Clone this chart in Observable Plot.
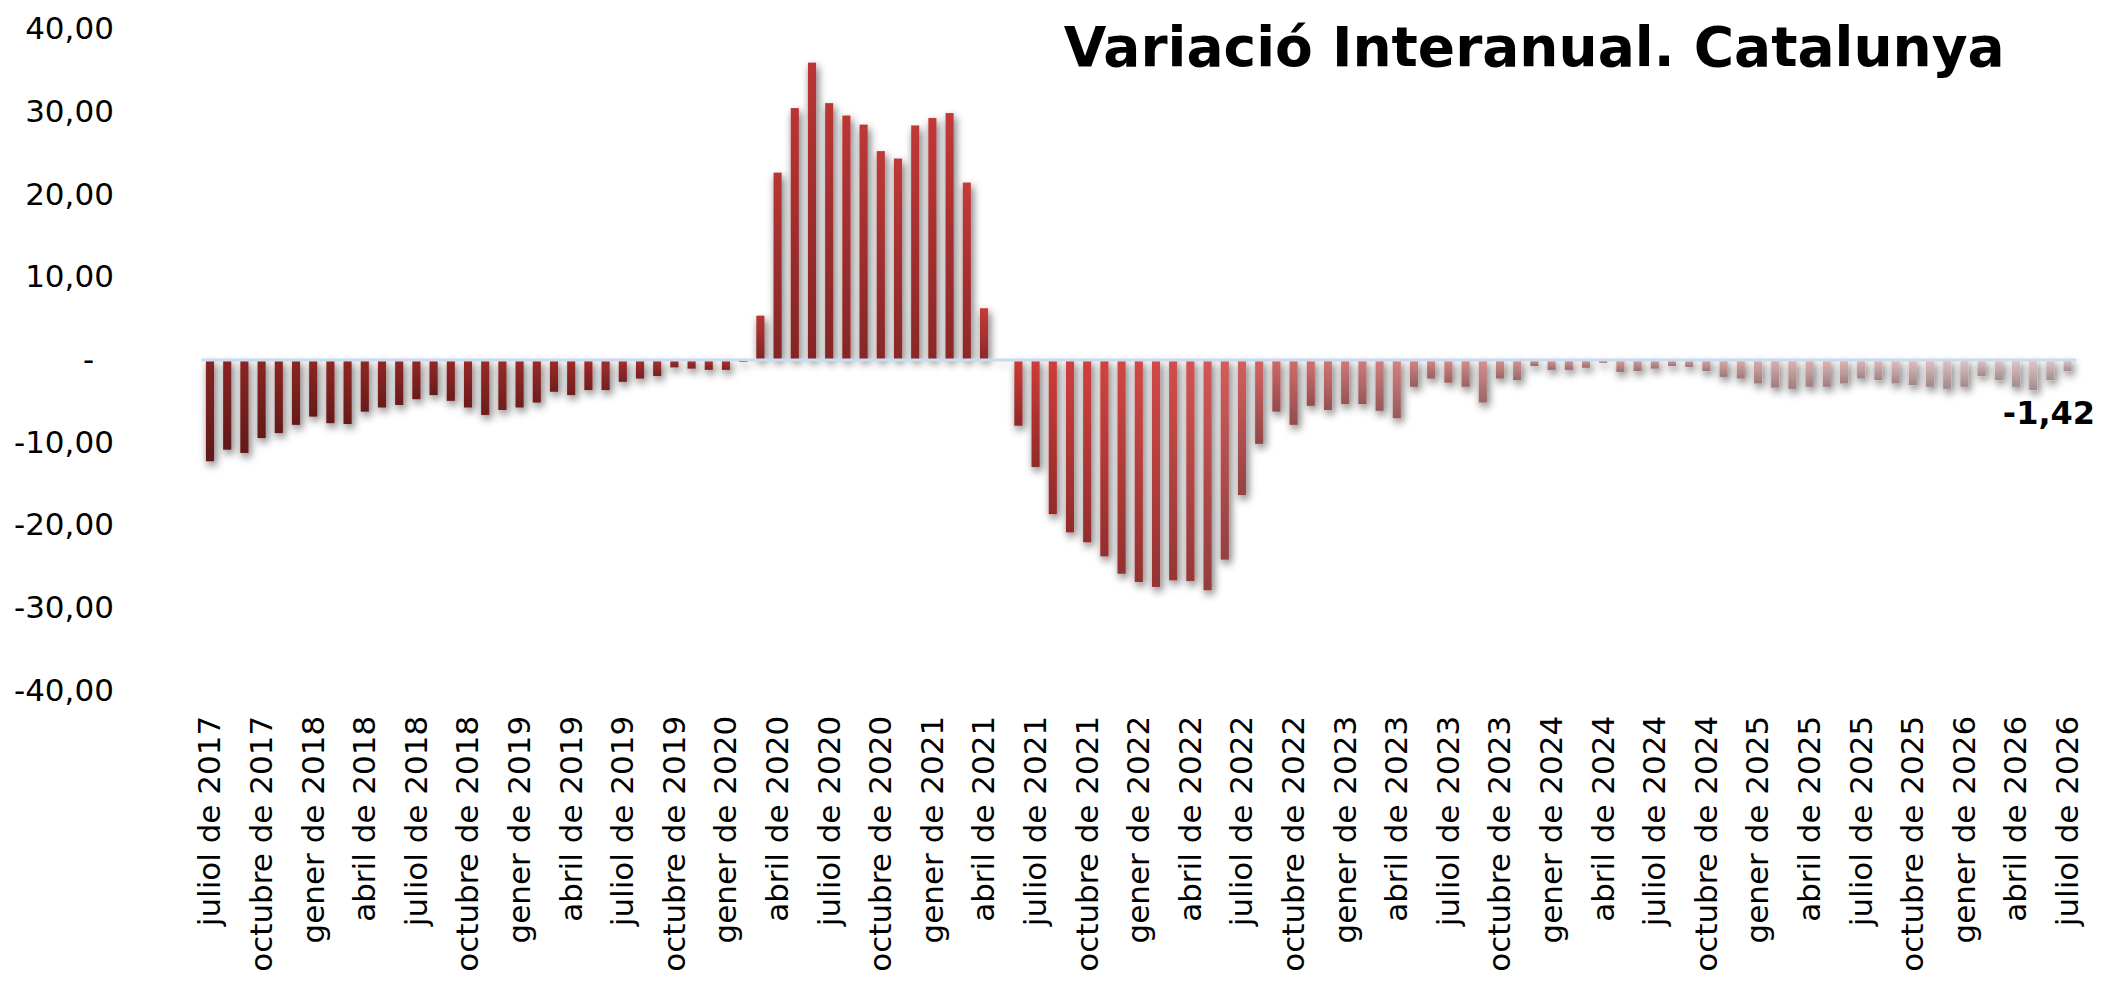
<!DOCTYPE html>
<html>
<head>
<meta charset="utf-8">
<script src="https://cdn.jsdelivr.net/npm/d3@7"></script>
<script src="https://cdn.jsdelivr.net/npm/@observablehq/plot@0.6"></script>
<style>
  html, body { margin: 0; padding: 0; background: #fff; }
  #chart svg { display: block; }
</style>
</head>
<body>
<div id="chart"></div>
<script>
// ---- data ----
const monthNames = ["gener", "febrer", "març", "abril", "maig", "juny", "juliol", "agost", "setembre", "octubre", "novembre", "desembre"];
const startYear = 2017;
const startMonthIndex = 6; // juliol

// Monthly year-on-year variation, juliol de 2017 .. juliol de 2026
const values = [
  -12.3, -10.9, -11.3, -9.5, -8.9, -7.9, -6.9, -7.7, -7.8, -6.3, -5.8, -5.5,
  -4.8, -4.3, -5.0, -5.8, -6.7, -6.1, -5.8, -5.2, -3.9, -4.3, -3.7, -3.7,
  -2.7, -2.3, -2.0, -0.95, -1.1, -1.25, -1.25, -0.3, 5.3, 22.6, 30.4, 35.9,
  31.0, 29.5, 28.4, 25.2, 24.3, 28.3, 29.2, 29.8, 21.4, 6.2, -0.15, -8.0,
  -13.0, -18.7, -20.9, -22.1, -23.8, -25.9, -26.9, -27.5, -26.7, -26.8, -27.9, -24.2,
  -16.4, -10.2, -6.3, -7.9, -5.6, -6.1, -5.4, -5.4, -6.2, -7.1, -3.3, -2.3,
  -2.8, -3.3, -5.2, -2.3, -2.5, -0.8, -1.25, -1.25, -1.0, -0.4, -1.5, -1.4,
  -1.1, -0.8, -0.9, -1.4, -2.1, -2.3, -2.9, -3.4, -3.55, -3.3, -3.3, -2.9,
  -2.3, -2.5, -2.9, -3.1, -3.3, -3.55, -3.3, -2.0, -2.5, -3.3, -3.7, -2.5,
  -1.42
];

const categories = values.map((_, i) => {
  const k = startMonthIndex + i;
  return `${monthNames[k % 12]} de ${startYear + Math.floor(k / 12)}`;
});
const tickLabels = categories.filter((_, i) => i % 3 === 0);
const yTicks = [-40, -30, -20, -10, 0, 10, 20, 30, 40];
const title = "Variació Interanual. Catalunya";
const lastLabel = "-1,42";

// ---- chart ----
const data = categories.map((c, i) => ({period: c, value: values[i]}));
const fmt = v => v === 0 ? "-\u2007" : v.toFixed(2).replace(".", ",");

const W = 2112, H = 986;
const mL = 201.4, mR = 35.8, mT = 28.7, mB = 295.7;

const plot = Plot.plot({
  width: W,
  height: H,
  marginLeft: mL,
  marginRight: mR,
  marginTop: mT,
  marginBottom: mB,
  style: {fontFamily: "'DejaVu Sans', Verdana, sans-serif", fontSize: "31px", color: "#000", background: "#fff", overflow: "visible"},
  x: {type: "band", domain: categories, paddingInner: 0.53, paddingOuter: 0.265, round: false, axis: null},
  y: {domain: [-40, 40], axis: null},
  marks: [
    Plot.axisY({ticks: yTicks, tickFormat: fmt, tickSize: 0, tickPadding: 88, fontSize: 31, label: null}),
    Plot.axisX({ticks: tickLabels, tickRotate: -90, tickSize: 0, tickPadding: 25, fontSize: 31, label: null}),
    Plot.barY(data, {x: "period", y: "value", fill: "url(#hgrad)"}),
    Plot.barY(data, {x: "period", y: "value", fill: "url(#vgrad)"}),
    Plot.ruleY([0], {stroke: "#c9dbf0", strokeWidth: 3}),
    Plot.text([data[data.length - 1]], {x: "period", y: "value", text: () => lastLabel, fontWeight: "bold", fontSize: 32, textAnchor: "end", dx: 27, dy: 42, fill: "#000"}),
    Plot.text([title], {frameAnchor: "top-right", text: d => d, fontWeight: "bold", fontSize: 55, textAnchor: "end", lineAnchor: "middle", dx: -72, dy: 18.7, fill: "#000"})
  ]
});

// gradients and shadow
const svg = d3.select(plot);
const defs = svg.insert("defs", ":first-child");
const hg = defs.append("linearGradient")
  .attr("id", "hgrad")
  .attr("gradientUnits", "userSpaceOnUse")
  .attr("x1", mL).attr("x2", W - mR).attr("y1", 0).attr("y2", 0);
[
  [0, "#882420"], [0.18, "#9c2a2a"], [0.30, "#b83434"], [0.42, "#c63a3a"],
  [0.45, "#cf3c39"], [0.51, "#d24a48"], [0.555, "#d26060"], [0.61, "#d47878"],
  [0.68, "#d89090"], [0.81, "#ddaaaa"], [0.92, "#e4c2c2"], [1, "#e6caca"]
].forEach(([o, c]) => hg.append("stop").attr("offset", o).attr("stop-color", c));

const vg = defs.append("linearGradient")
  .attr("id", "vgrad")
  .attr("x1", 0).attr("y1", 0).attr("x2", 0).attr("y2", 1);
vg.append("stop").attr("offset", 0).attr("stop-color", "#000").attr("stop-opacity", 0);
vg.append("stop").attr("offset", 1).attr("stop-color", "#000").attr("stop-opacity", 0.3);

const f = defs.append("filter").attr("id", "shadow")
  .attr("x", "-10%").attr("y", "-10%").attr("width", "120%").attr("height", "125%");
f.append("feDropShadow").attr("dx", 2).attr("dy", 4).attr("stdDeviation", 4.5)
  .attr("flood-color", "#000").attr("flood-opacity", 0.6);

const barGroups = plot.querySelectorAll('g[aria-label="bar"]');
if (barGroups.length) barGroups[0].setAttribute("filter", "url(#shadow)");

document.getElementById("chart").appendChild(plot);
</script>
</body>
</html>
